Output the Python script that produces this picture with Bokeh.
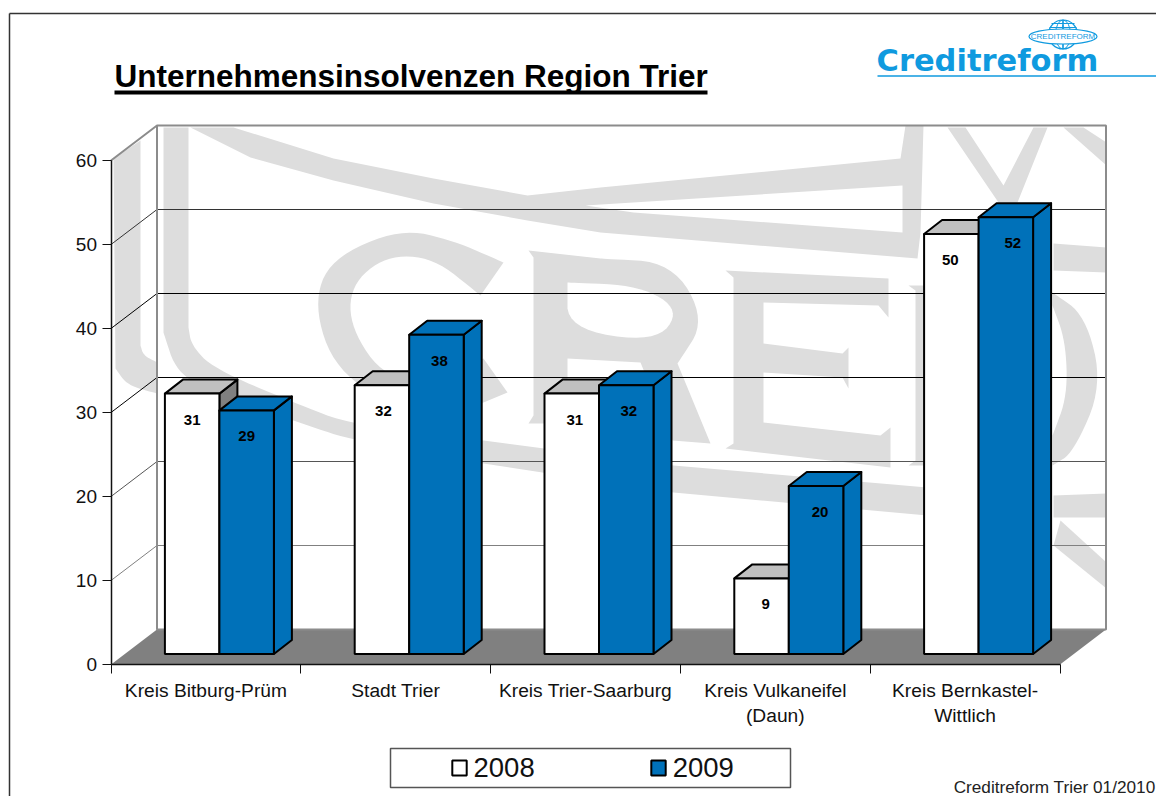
from bokeh.plotting import figure
from bokeh.embed import file_html
from bokeh.resources import INLINE
from bokeh.core.properties import value
from bokeh.models import (Range1d, LinearAxis, FixedTicker, Legend, LegendItem)

# ---------- data ----------
categories = ["Kreis Bitburg-Prüm", "Stadt Trier", "Kreis Trier-Saarburg",
              "Kreis Vulkaneifel\n(Daun)", "Kreis Bernkastel-\nWittlich"]
series_2008 = [31, 32, 31, 9, 50]
series_2009 = [29, 38, 32, 20, 52]
y_ticks = [0, 10, 20, 30, 40, 50, 60]
title_text = "Unternehmensinsolvenzen Region Trier"
footer_text = "Creditreform Trier 01/2010"
logo_text = "Creditreform"

# ---------- scale ----------
W, H = 1156, 796
X0, Y0 = 110.5, 664       # page position of data (0, 0)
SX, SY = 189.8, 8.4       # px per category, px per value

def X(px):
    return (px - X0) / SX

def Y(py):
    return (Y0 - py) / SY

BLUE = "#0071B9"
LOGO = "#0F9ADF"
WM = "#DDDDDD"
WALL_DX, WALL_DY = 46 / SX, 35 / SY     # depth of the chart's box
BAR_DX, BAR_DY = 18 / SX, 14 / SY       # depth of a bar
BASE_DX, BASE_DY = 13.5 / SX, 10.5 / SY # bars stand inside the floor
BAR_W = 54.5 / SX
N = len(categories)
TOP = y_ticks[-1]
nudge_2008 = [0, 1.5, 3, 4, -1]         # px, label drift seen in the picture
nudge_2009 = [0, 3, 2.5, 4, 7]

p = figure(width=W, height=H, output_backend="svg", toolbar_location=None, tools="",
           x_range=Range1d(X(0), X(W)), y_range=Range1d(Y(H), Y(0)),
           x_axis_location=None, y_axis_location=None, min_border=0,
           background_fill_color="white", border_fill_color="white",
           outline_line_color=None)
p.grid.visible = False

# ---------- page frame ----------
p.multi_line([[X(9), X(9)], [X(9), X(1156)]], [[Y(796), Y(13)], [Y(13), Y(13)]],
             line_color="#333333", line_width=1.5)

# ---------- walls ----------
p.patch([0, WALL_DX, WALL_DX, 0], [TOP, TOP + WALL_DY, WALL_DY, 0], fill_color="white", line_color=None)
p.quad(left=[WALL_DX], right=[N + WALL_DX], bottom=[WALL_DY], top=[TOP + WALL_DY],
       fill_color="white", line_color=None)

# ---------- watermark: an enlarged, faint logo (page pixels) ----------
def wm(polys, color=WM):
    p.patches([[X(a) for a, _ in q] for q in polys], [[Y(b) for _, b in q] for q in polys],
              fill_color=color, line_color=None)

def smooth(pts, closed=False, rounds=3):
    """Corner cutting, so that a drawn outline reads as a curve."""
    for _ in range(rounds):
        out = [pts[0]] if not closed else []
        n = len(pts)
        for i in range(n if closed else n - 1):
            a, b = pts[i], pts[(i + 1) % n]
            out.append((0.75 * a[0] + 0.25 * b[0], 0.75 * a[1] + 0.25 * b[1]))
            out.append((0.25 * a[0] + 0.75 * b[0], 0.25 * a[1] + 0.75 * b[1]))
        if not closed:
            out.append(pts[-1])
        pts = out
    return pts

wm([
    # left ring on the side wall
    [(113, 158), (140, 140), (140, 345)] + smooth([(140, 345), (143, 355), (157, 362)])
    + smooth([(157, 393), (127, 385), (115, 368)]),
    # ring going down and along the bottom
    [(163, 127), (188, 127)] + smooth([(188, 327), (191, 345), (213, 368), (293, 402), (353, 425), (483, 440)])
    + [(673, 465), (927, 487), (927, 515), (673, 492)]
    + smooth([(483, 463), (353, 440), (307, 425), (213, 392), (176, 372), (163, 332)]),
    [(1053, 495), (1106, 493), (1106, 517), (1053, 517)],
    [(1060, 520), (1106, 562), (1106, 588), (1053, 545)],
    # ring along the top
    [(190, 127), (233, 127), (333, 158), (433, 178), (527, 195), (600, 187), (900, 158), (905, 125),
     (923, 125), (920, 232), (917, 258), (600, 232), (527, 220), (433, 203), (333, 180), (250, 157)],
    [(1053, 243), (1106, 247), (1106, 272), (1053, 270)],
    # globe lines, top right
    [(947, 127), (965, 127), (1003, 185), (1033, 127), (1047, 127), (1017, 202), (998, 202)],
    [(1063, 127), (1083, 127), (1106, 142), (1106, 165)],
])
wm([[(585, 205), (902, 185), (902, 232), (633, 212)]], "white")
# letters C R E D of the watermark
wm([
    [(503, 262), (480, 295)] + smooth([(480, 295), (433, 257), (385, 255), (350, 285), (350, 328), (385, 378),
                                       (440, 380), (483, 358)]) + [(507, 392)]
    + smooth([(483, 402), (400, 410), (335, 370), (313, 305), (330, 258), (400, 228), (453, 240), (503, 262)]),
    [(528, 250), (600, 258)] + smooth([(600, 258), (672, 262), (705, 320), (677, 363)]) + [(710, 443),
     (672, 440), (640, 362), (567, 358), (567, 415), (585, 423), (528, 423), (533, 415), (533, 257)],
    [(725, 270), (888, 278), (888, 317), (878, 305), (763, 302), (763, 343), (842, 353), (848, 347),
     (848, 388), (842, 377), (763, 372), (763, 422), (880, 435), (890, 427), (890, 467), (725, 448),
     (733, 443), (733, 277)],
    [(908, 285), (924, 285), (924, 465), (908, 465), (915, 460), (915, 290)],
    smooth([(1052, 292), (1085, 315), (1102, 385), (1073, 452), (1052, 465)])
    + smooth([(1052, 435), (1067, 395), (1065, 340), (1052, 305)]),
])
wm([smooth([(567, 282), (640, 285), (680, 310), (655, 342), (567, 328), (567, 282)])], "white")

# ---------- floor ----------
p.patch([0, WALL_DX, N + WALL_DX, N], [0, WALL_DY, WALL_DY, 0], fill_color="#808080", line_color=None)

# ---------- grid ----------
grid = y_ticks[1:-1]
grid_colors = ["#808080", "#555555", "#000000", "#000000", "#333333"]
p.multi_line([[0, WALL_DX, N + WALL_DX] for _ in grid],
             [[v, v + WALL_DY, v + WALL_DY] for v in grid], line_color=grid_colors, line_width=1)
p.multi_line([[0, WALL_DX, N + WALL_DX, N + WALL_DX, WALL_DX, WALL_DX]],
             [[TOP, TOP + WALL_DY, TOP + WALL_DY, WALL_DY, WALL_DY, TOP + WALL_DY]],
             line_color="#8C8C8C", line_width=2)

# ---------- bars ----------
def draw_series(values, offset, front, top, side):
    lefts = [i + 0.5 + BASE_DX + offset * BAR_W for i in range(N)]
    rights = [a + BAR_W for a in lefts]
    tops = [v + BASE_DY for v in values]
    p.patches([[r, r + BAR_DX, r + BAR_DX, r] for r in rights],
              [[BASE_DY, BASE_DY + BAR_DY, t + BAR_DY, t] for t in tops],
              fill_color=side, line_color="black", line_width=2, line_join="round")
    p.patches([[a, a + BAR_DX, r + BAR_DX, r] for a, r in zip(lefts, rights)],
              [[t, t + BAR_DY, t + BAR_DY, t] for t in tops],
              fill_color=top, line_color="black", line_width=2, line_join="round")
    return p.quad(left=lefts, right=rights, bottom=[BASE_DY] * N, top=tops,
                  fill_color=front, line_color="black", line_width=2)

r2008 = draw_series(series_2008, -1, "white", "#C0C0C0", "#808080")
r2009 = draw_series(series_2009, 0, BLUE, BLUE, BLUE)

for vals, offset, nudge in ((series_2008, -0.5, nudge_2008), (series_2009, 0.5, nudge_2009)):
    p.text([i + 0.5 + BASE_DX + offset * BAR_W + nudge[i] / SX for i in range(N)],
           [v + BASE_DY - 26 / SY for v in vals], text=[str(v) for v in vals],
           text_font=value("Liberation Sans"), text_font_style="bold", text_font_size="15px",
           text_color="black", text_align="center", text_baseline="middle")

# ---------- axes ----------
y_axis = LinearAxis(ticker=FixedTicker(ticks=y_ticks), fixed_location=0, bounds=(0, TOP),
                    major_tick_out=9, major_tick_in=0, minor_tick_out=0, minor_tick_in=0,
                    major_label_standoff=5, major_label_text_font="Liberation Sans",
                    major_label_text_font_size="19px", major_label_text_color="#111111",
                    axis_line_color="#111111", axis_line_width=1.5, major_tick_line_color="#111111")
p.add_layout(y_axis, "left")

x_axis = LinearAxis(ticker=FixedTicker(ticks=[i + 0.5 for i in range(N)], minor_ticks=list(range(N + 1))),
                    major_label_overrides={i + 0.5: c for i, c in enumerate(categories)},
                    fixed_location=0, bounds=(0, N), major_tick_out=0, major_tick_in=0,
                    minor_tick_out=9, minor_tick_in=0, major_label_standoff=6,
                    major_label_text_font="Liberation Sans", major_label_text_font_size="19.2px",
                    major_label_text_color="#111111", axis_line_color="#111111", axis_line_width=1.5,
                    minor_tick_line_color="#111111")
p.add_layout(x_axis, "below")

# ---------- title ----------
p.text([X(114)], [Y(75.5)], text=[title_text], text_font=value("Liberation Sans"), text_font_style="bold",
       text_font_size="31.5px", text_color="black", text_align="left", text_baseline="middle")
p.quad(left=[X(114)], right=[X(707)], bottom=[Y(94)], top=[Y(90)], fill_color="black", line_color=None)

# ---------- logo ----------
p.ellipse([X(1062.5)], [Y(34)], width=29, height=29, width_units="screen", height_units="screen",
          fill_color="white", line_color=LOGO, line_width=1.2)
p.ellipse([X(1062.5)] * 2, [Y(34)] * 2, width=[15, 1], height=[29, 29], width_units="screen",
          height_units="screen", fill_color=None, line_color=LOGO, line_width=1)
p.multi_line([[X(1049), X(1076)], [X(1051), X(1074)]], [[Y(27), Y(27)], [Y(23), Y(23)]],
             line_color=LOGO, line_width=1)
p.ellipse([X(1062.5)], [Y(36)], width=68, height=15, width_units="screen", height_units="screen",
          fill_color="white", line_color=LOGO, line_width=1.2)
p.text([X(1062.5)], [Y(36)], text=["CREDITREFORM"], text_font=value("Liberation Sans"), text_font_size="8px",
       text_color=LOGO, text_align="center", text_baseline="middle")
p.text([X(876)], [Y(60)], text=[logo_text], text_font=value("DejaVu Sans"), text_font_style="bold",
       text_font_size="30.5px", text_color=LOGO, text_align="left", text_baseline="middle")
p.line([X(877), X(1156)], [Y(75.5), Y(75.5)], line_color=LOGO, line_width=1.5)

# ---------- legend ----------
p.quad(left=[X(390)], right=[X(790)], bottom=[Y(787)], top=[Y(748)], fill_color="white",
       line_color="#555555", line_width=1.5)
legend = Legend(items=[LegendItem(label="2008", renderers=[r2008]), LegendItem(label="2009", renderers=[r2009])],
                orientation="horizontal", location=(449.5, 12.5), padding=0, margin=0, spacing=114,
                glyph_width=18, glyph_height=19, label_standoff=6, label_height=19,
                label_text_font="Liberation Sans", label_text_font_size="27.5px", label_text_color="#111111",
                border_line_color=None, background_fill_alpha=0)
p.add_layout(legend, "center")

# ---------- footer ----------
p.text([X(1155)], [Y(786.5)], text=[footer_text], text_font=value("Liberation Sans"), text_font_size="17.2px",
       text_color="#222222", text_align="right", text_baseline="middle")

open("out.html", "w").write(file_html(p, INLINE))
